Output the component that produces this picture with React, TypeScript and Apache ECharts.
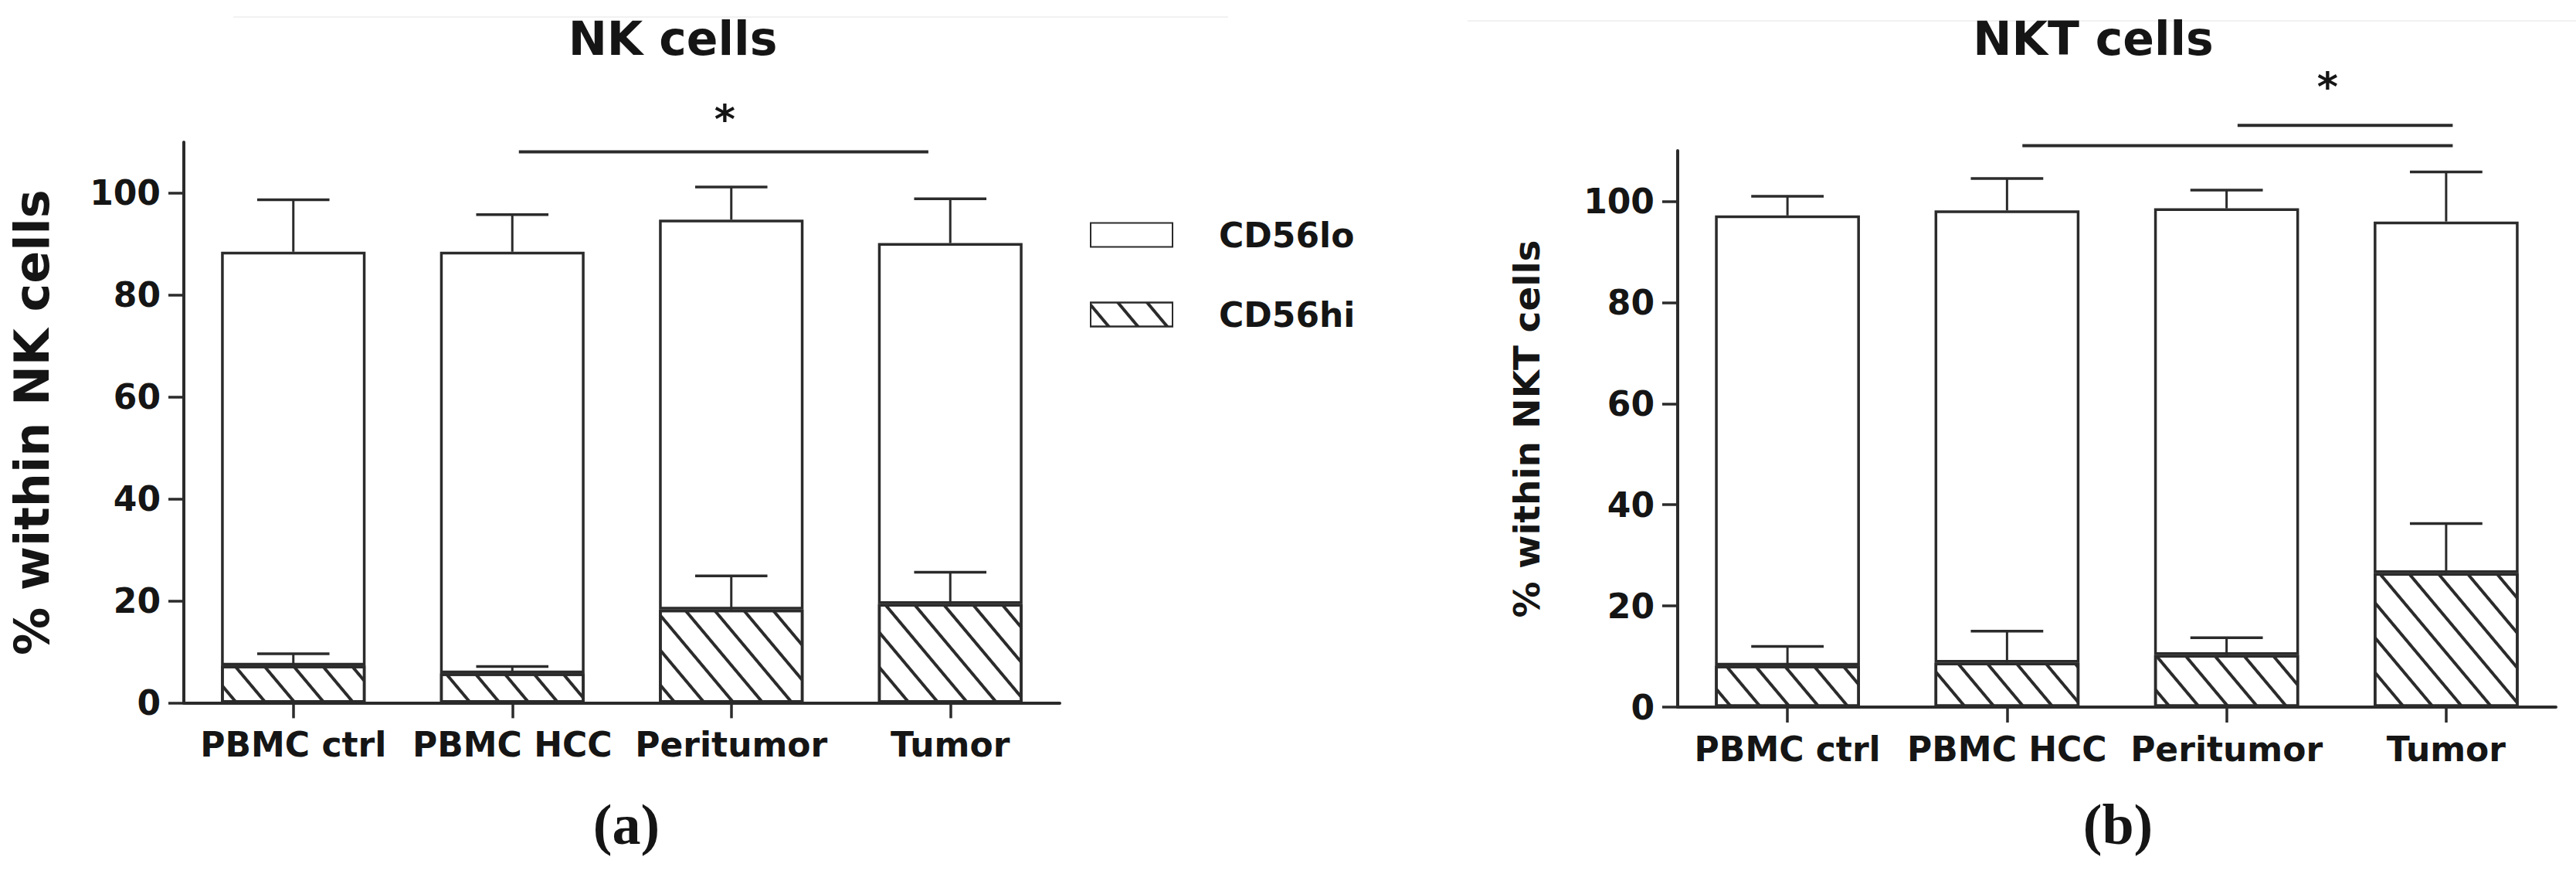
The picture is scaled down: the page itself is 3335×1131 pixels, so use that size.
import React, { useEffect, useRef } from 'react';
import * as echarts from 'echarts';

// ---------- data ----------
const categories = ['PBMC ctrl', 'PBMC HCC', 'Peritumor', 'Tumor'];
const yTickValues = [0, 20, 40, 60, 80, 100];

// NK cells (panel a)
const nkHi = [7.3, 5.8, 18.3, 19.4];
const nkHiSd = [2.3, 1.3, 6.6, 6.2];
const nkLo = [81.2, 82.7, 76.5, 70.8];
const nkLoSd = [10.2, 7.3, 6.4, 8.7];
// significance bars: [fromIndex, toIndex, yValue]
const nkSigLines = [[1.03, 2.9, 108.1]];
const nkStars = [[1.97, 114.6]];

// NKT cells (panel b)
const nktHi = [8.2, 8.8, 10.3, 26.5];
const nktHiSd = [3.8, 6.2, 3.4, 9.8];
const nktLo = [89.0, 89.4, 88.3, 69.5];
const nktLoSd = [3.8, 6.3, 3.6, 9.8];
const nktSigLines = [[1.07, 3.03, 111.0], [2.05, 3.03, 115.0]];
const nktStars = [[2.46, 122.7]];

const LINE = '#2b2b2b';
const TEXT = '#151515';
const SANS = '"DejaVu Sans", Arial, sans-serif';

const hatch = {
  symbol: 'rect',
  symbolSize: 1,
  color: LINE,
  dashArrayX: [1, 0],
  dashArrayY: [4, 25],
  rotation: Math.PI * 50 / 180,
};

function errorRender(params: any, api: any) {
  const i = api.value(0);
  const base = api.value(1);
  const top = api.value(2);
  const p0 = api.coord([i, base]);
  const p1 = api.coord([i, top]);
  const w = api.size([1, 0])[0] * 0.33;
  return {
    type: 'group',
    children: [
      { type: 'line', shape: { x1: p0[0], y1: p0[1], x2: p1[0], y2: p1[1] }, style: { stroke: LINE, lineWidth: 3 } },
      { type: 'line', shape: { x1: p1[0] - w / 2, y1: p1[1], x2: p1[0] + w / 2, y2: p1[1] }, style: { stroke: LINE, lineWidth: 3.5 } },
    ],
  };
}

function sigRender(params: any, api: any) {
  const from = api.value(1);
  const to = api.value(2);
  const y = api.value(3);
  const origin = api.coord([0, y]);
  const band = api.size([1, 0])[0];
  return {
    type: 'line',
    shape: { x1: origin[0] + from * band, y1: origin[1], x2: origin[0] + to * band, y2: origin[1] },
    style: { stroke: LINE, lineWidth: 4 },
  };
}

function starRender(params: any, api: any) {
  const at = api.value(1);
  const y = api.value(2);
  const origin = api.coord([0, y]);
  const band = api.size([1, 0])[0];
  return {
    type: 'text',
    x: origin[0] + at * band,
    y: origin[1],
    style: {
      text: '*',
      fill: TEXT,
      fontSize: 52,
      fontWeight: 'bold',
      fontFamily: SANS,
      align: 'center',
      verticalAlign: 'middle',
    },
  };
}

function makeAxes(idx: number, name: string, nameSize: number, nameGap: number) {
  const xAxis = {
    type: 'category',
    gridIndex: idx,
    data: categories,
    axisLine: { show: true, lineStyle: { color: LINE, width: 4 } },
    axisTick: { show: true, alignWithLabel: true, length: 20, lineStyle: { color: LINE, width: 3.5 } },
    axisLabel: { interval: 0, margin: 32, fontSize: 44, fontWeight: 'bold', fontFamily: SANS, color: TEXT },
    splitLine: { show: false },
  };
  const yAxis = {
    type: 'value',
    gridIndex: idx,
    min: 0,
    max: 110,
    interval: 10,
    name,
    nameLocation: 'middle',
    nameRotate: 90,
    nameGap,
    nameTextStyle: { fontSize: nameSize, fontWeight: 'bold', fontFamily: SANS, color: TEXT },
    axisLine: { show: true, lineStyle: { color: LINE, width: 4 } },
    axisTick: { show: true, length: 20, customValues: yTickValues, lineStyle: { color: LINE, width: 3.5 } },
    axisLabel: { margin: 30, customValues: yTickValues, fontSize: 44, fontWeight: 'bold', fontFamily: SANS, color: TEXT },
    splitLine: { show: false },
  };
  return { xAxis, yAxis };
}

function makeSeries(idx: number, hi: number[], hiSd: number[], lo: number[], loSd: number[], sig: number[][], stars: number[][]) {
  const stack = 's' + idx;
  const common = { xAxisIndex: idx, yAxisIndex: idx };
  return [
    {
      ...common,
      name: 'CD56hi',
      type: 'bar',
      stack,
      barWidth: '66%',
      data: hi,
      itemStyle: { color: '#ffffff', borderColor: LINE, borderWidth: 3.5, decal: hatch },
      z: 2,
    },
    {
      ...common,
      name: 'CD56lo',
      type: 'bar',
      stack,
      barWidth: '66%',
      data: lo,
      itemStyle: { color: '#ffffff', borderColor: LINE, borderWidth: 3.5 },
      z: 2,
    },
    {
      ...common,
      type: 'custom',
      name: 'err-hi-' + idx,
      renderItem: errorRender,
      encode: { x: 0, y: [1, 2] },
      data: hi.map((v, i) => [i, v, v + hiSd[i]]),
      z: 4,
      clip: false,
    },
    {
      ...common,
      type: 'custom',
      name: 'err-lo-' + idx,
      renderItem: errorRender,
      encode: { x: 0, y: [1, 2] },
      data: lo.map((v, i) => [i, v + hi[i], v + hi[i] + loSd[i]]),
      z: 4,
      clip: false,
    },
    {
      ...common,
      type: 'custom',
      name: 'sig-' + idx,
      renderItem: sigRender,
      encode: { x: 0, y: 3 },
      data: sig.map((s) => [0, s[0], s[1], s[2]]),
      z: 4,
      clip: false,
    },
    {
      ...common,
      type: 'custom',
      name: 'star-' + idx,
      renderItem: starRender,
      encode: { x: 0, y: 2 },
      data: stars.map((s) => [0, s[0], s[1]]),
      z: 4,
      clip: false,
    },
  ];
}

export default function App() {
  const ref = useRef<HTMLDivElement>(null);

  useEffect(() => {
    document.body.style.margin = '0';
    if (!ref.current) return;
    const chart = echarts.init(ref.current, null, { renderer: 'svg' });

    const a = makeAxes(0, '% within NK cells', 62, 166);
    const b = makeAxes(1, '% within NKT cells', 47, 172);

    const option: any = {
      animation: false,
      backgroundColor: '#ffffff',
      grid: [
        { left: 238, top: 184, width: 1134, height: 725.4, containLabel: false },
        { left: 2172, top: 195, width: 1137, height: 720, containLabel: false },
      ],
      xAxis: [a.xAxis, b.xAxis],
      yAxis: [a.yAxis, b.yAxis],
      legend: {
        data: [
          { name: 'CD56lo', icon: 'rect' },
          { name: 'CD56hi', icon: 'rect' },
        ],
        orient: 'vertical',
        left: 1406,
        top: 277,
        itemWidth: 106,
        itemHeight: 31,
        itemGap: 59,
        selectedMode: false,
        textStyle: { fontSize: 44, fontWeight: 'bold', fontFamily: SANS, color: TEXT, lineHeight: 31, padding: [0, 0, 0, 55] },
      },
      series: [
        ...makeSeries(0, nkHi, nkHiSd, nkLo, nkLoSd, nkSigLines, nkStars),
        ...makeSeries(1, nktHi, nktHiSd, nktLo, nktLoSd, nktSigLines, nktStars),
      ],
      graphic: [
        { type: 'line', shape: { x1: 302, y1: 22, x2: 1590, y2: 22 }, style: { stroke: '#f1f1f1', lineWidth: 2 } },
        { type: 'line', shape: { x1: 1900, y1: 27, x2: 3335, y2: 27 }, style: { stroke: '#f1f1f1', lineWidth: 2 } },
        {
          type: 'text', x: 871, y: 50,
          style: { text: 'NK cells', fontSize: 60, fontWeight: 'bold', fontFamily: SANS, fill: TEXT, align: 'center', verticalAlign: 'middle', textAlign: 'center', textVerticalAlign: 'middle' },
        },
        {
          type: 'text', x: 2710, y: 50,
          style: { text: 'NKT cells', fontSize: 60, fontWeight: 'bold', fontFamily: SANS, fill: TEXT, align: 'center', verticalAlign: 'middle', textAlign: 'center', textVerticalAlign: 'middle' },
        },
        {
          type: 'text', x: 811, y: 1067,
          style: { text: '(a)', fontSize: 74, fontWeight: 'bold', fontFamily: '"Liberation Serif", "DejaVu Serif", serif', fill: TEXT, align: 'center', verticalAlign: 'middle', textAlign: 'center', textVerticalAlign: 'middle' },
        },
        {
          type: 'text', x: 2742, y: 1067,
          style: { text: '(b)', fontSize: 74, fontWeight: 'bold', fontFamily: '"Liberation Serif", "DejaVu Serif", serif', fill: TEXT, align: 'center', verticalAlign: 'middle', textAlign: 'center', textVerticalAlign: 'middle' },
        },
      ],
    };

    chart.setOption(option);
    return () => chart.dispose();
  }, []);

  return <div ref={ref} style={{ width: 3335, height: 1131 }} />;
}
